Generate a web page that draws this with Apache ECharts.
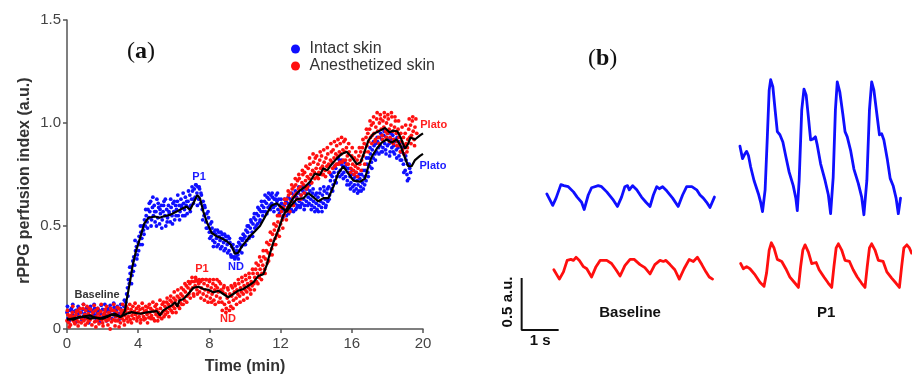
<!DOCTYPE html>
<html><head><meta charset="utf-8">
<script src="https://cdn.jsdelivr.net/npm/echarts@6/dist/echarts.min.js"></script>
<style>html,body{margin:0;padding:0;background:#fff}#c{width:912px;height:380px}</style>
</head><body><div id="c"></div>
<script>
// ---------- Panel (a) data: time (min), rPPG perfusion index (a.u.) ----------
const xTicks = [0, 4, 8, 12, 16, 20];
const yTicks = [0, 0.5, 1.0, 1.5];

const intactDots = [[0,0.08],[0.05,0.05],[0.1,0.09],[0.2,0.06],[0.25,0.1],[0.3,0.07],[0.4,0.085],[0.45,0.05],[0.5,0.09],[0.6,0.07],[0.65,0.1],[0.7,0.06],[0.8,0.08],[0.9,0.095],[0.95,0.065],[1,0.075],[1.1,0.1],[1.2,0.07],[1.25,0.085],[1.3,0.06],[1.4,0.09],[1.5,0.075],[1.55,0.1],[1.6,0.065],[1.7,0.08],[1.8,0.09],[1.85,0.06],[1.9,0.075],[2,0.095],[2.1,0.07],[2.2,0.085],[2.25,0.06],[2.3,0.1],[2.4,0.075],[2.5,0.09],[2.6,0.07],[2.65,0.105],[2.7,0.08],[2.8,0.095],[2.9,0.075],[3,0.1],[3.1,0.085],[3.2,0.11],
[3.3,0.13],[3.35,0.17],[3.4,0.2],[3.45,0.24],[3.5,0.22],[3.55,0.27],[3.6,0.3],[3.65,0.26],[3.7,0.33],[3.75,0.35],[3.8,0.31],[3.85,0.38],[3.9,0.4],[3.95,0.36],[4,0.42],[4.05,0.45],[4.1,0.41],[4.15,0.47],[4.2,0.44],[4.25,0.5],[4.3,0.48],[4.35,0.53],[4.4,0.5],[4.45,0.55],[4.5,0.52],[4.55,0.58],[4.6,0.54],[4.65,0.57],[4.7,0.62],[4.75,0.53],[4.8,0.59],[4.85,0.55],[4.9,0.6],[4.95,0.52],[5,0.57],[5.05,0.63],[5.1,0.54],[5.15,0.59],[5.2,0.51],[5.25,0.56],[5.3,0.6],[5.35,0.53],[5.4,0.57],[5.45,0.62],[5.5,0.55],[5.55,0.5],[5.6,0.58],[5.65,0.54],[5.7,0.6],[5.75,0.56],[5.8,0.52],[5.85,0.59],[5.9,0.55],[5.95,0.61],[6,0.57],[6.05,0.53],[6.1,0.6],[6.15,0.58],[6.2,0.62],[6.25,0.55],[6.3,0.6],[6.35,0.57],[6.4,0.63],[6.45,0.59],[6.5,0.55],[6.55,0.61],[6.6,0.58],[6.65,0.64],[6.7,0.6],[6.75,0.56],[6.8,0.62],[6.85,0.59],[6.9,0.65],[6.95,0.6],[7,0.63],[7.05,0.67],[7.1,0.61],[7.15,0.68],[7.2,0.64],[7.25,0.7],[7.3,0.66],[7.35,0.69],[7.4,0.63],[7.45,0.68],[7.5,0.61],[7.55,0.65],[7.6,0.58],[7.65,0.62],[7.7,0.55],[7.75,0.59],[7.8,0.52],[7.85,0.56],[7.9,0.49],[7.95,0.54],[8,0.47],[8.05,0.51],[8.1,0.45],[8.15,0.49],[8.2,0.43],[8.25,0.47],[8.3,0.42],[8.35,0.46],[8.4,0.44],[8.45,0.48],[8.5,0.41],[8.55,0.45],[8.6,0.43],[8.65,0.47],[8.7,0.4],[8.75,0.44],[8.8,0.42],[8.85,0.46],[8.9,0.39],[8.95,0.43],[9,0.41],[9.05,0.45],[9.1,0.38],[9.15,0.42],[9.2,0.36],[9.25,0.4],[9.3,0.35],[9.35,0.39],[9.4,0.35],[9.45,0.37],[9.5,0.35],[9.55,0.4],[9.6,0.36],[9.65,0.42],[9.7,0.38],[9.75,0.44],[9.8,0.4],[9.85,0.43],[9.9,0.46],[9.95,0.41],[10,0.45],[10.05,0.48],[10.1,0.43],[10.15,0.47],[10.2,0.5],[10.25,0.45],[10.3,0.49],[10.35,0.52],[10.4,0.47],[10.45,0.51],[10.5,0.54],[10.55,0.49],[10.6,0.53],[10.65,0.56],[10.7,0.51],[10.75,0.55],[10.8,0.58],[10.85,0.53],[10.9,0.57],[10.95,0.6],[11,0.55],[11.05,0.59],[11.1,0.62],[11.15,0.57],[11.2,0.61],[11.25,0.64],[11.3,0.59],[11.35,0.63],[11.4,0.6],[11.45,0.65],[11.5,0.61],[11.55,0.64],[11.6,0.59],[11.65,0.63],[11.7,0.6],[11.75,0.65],[11.8,0.62],[11.85,0.58],[11.9,0.63],[11.95,0.6],[12,0.57],[12.05,0.61],[12.1,0.58],[12.15,0.55],[12.2,0.6],[12.25,0.57],[12.3,0.62],[12.35,0.58],[12.4,0.61],[12.45,0.56],[12.5,0.6],[12.55,0.63],[12.6,0.58],[12.65,0.62],[12.7,0.6],[12.75,0.65],[12.8,0.61],[12.85,0.58],[12.9,0.64],[12.95,0.6],[13,0.66],[13.05,0.62],[13.1,0.59],[13.15,0.65],[13.2,0.61],[13.25,0.67],[13.3,0.63],[13.35,0.6],[13.4,0.66],[13.45,0.62],[13.5,0.68],[13.55,0.64],[13.6,0.61],[13.65,0.67],[13.7,0.63],[13.75,0.6],[13.8,0.66],[13.85,0.62],[13.9,0.59],[13.95,0.65],[14,0.61],[14.05,0.58],[14.1,0.64],[14.15,0.6],[14.2,0.66],[14.25,0.62],[14.3,0.59],[14.35,0.65],[14.4,0.61],[14.45,0.67],[14.5,0.63],[14.55,0.6],[14.6,0.66],[14.65,0.62],[14.7,0.69],[14.75,0.65],[14.8,0.72],[14.85,0.68],[14.9,0.74],[14.95,0.7],[15,0.76],[15.05,0.72],[15.1,0.78],[15.15,0.74],[15.2,0.8],[15.25,0.76],[15.3,0.82],[15.35,0.77],[15.4,0.8],[15.45,0.75],[15.5,0.79],[15.55,0.76],[15.6,0.81],[15.65,0.74],[15.7,0.78],[15.75,0.72],[15.8,0.76],[15.85,0.7],[15.9,0.74],[15.95,0.71],[16,0.75],[16.05,0.69],[16.1,0.73],[16.15,0.7],[16.2,0.74],[16.25,0.68],[16.3,0.72],[16.35,0.7],[16.4,0.67],[16.45,0.73],[16.5,0.69],[16.55,0.75],[16.6,0.71],[16.65,0.68],[16.7,0.74],[16.75,0.77],[16.8,0.72],[16.85,0.8],[16.9,0.76],[16.95,0.83],[17,0.79],[17.05,0.85],[17.1,0.81],[17.15,0.87],[17.2,0.83],[17.25,0.89],[17.3,0.85],[17.35,0.9],[17.4,0.86],[17.45,0.91],[17.5,0.88],[17.55,0.93],[17.6,0.89],[17.65,0.86],[17.7,0.92],[17.75,0.88],[17.8,0.94],[17.85,0.9],[17.9,0.87],[17.95,0.93],[18,0.89],[18.05,0.95],[18.1,0.9],[18.15,0.86],[18.2,0.92],[18.25,0.88],[18.3,0.94],[18.35,0.89],[18.4,0.85],[18.45,0.91],[18.5,0.87],[18.55,0.93],[18.6,0.88],[18.65,0.84],[18.7,0.9],[18.75,0.86],[18.8,0.82],[18.85,0.88],[18.9,0.8],[18.95,0.85],[19,0.77],[19.05,0.82],[19.1,0.75],[19.15,0.8],[19.2,0.73],[19.25,0.78],[19.3,0.76]];

const intactDotsExtra = [[0.025,0.11],[0.125,0.04],[0.225,0.09],[0.325,0.12],[0.425,0.06],[0.525,0.035],[0.625,0.11],[0.725,0.08],[0.825,0.045],[0.925,0.12],[1.025,0.05],[1.125,0.09],[1.225,0.03],[1.325,0.11],[1.425,0.065],[1.525,0.12],[1.625,0.04],[1.725,0.1],[1.825,0.035],[1.925,0.115],[2.025,0.055],[2.125,0.12],[2.225,0.04],[2.325,0.085],[2.425,0.115],[2.525,0.05],[2.625,0.125],[2.725,0.06],[2.825,0.11],[2.925,0.045],[3.025,0.12],[3.125,0.07],[3.225,0.14],[3.325,0.1],[3.425,0.16],[3.525,0.3],[3.625,0.22],[3.725,0.28],[3.825,0.43],[3.925,0.34],[4.025,0.38],[4.125,0.5],[4.225,0.41],[4.325,0.46],[4.425,0.58],[4.525,0.49],[4.625,0.61],[4.725,0.5],[4.825,0.64],[4.925,0.57],[5.025,0.5],[5.125,0.61],[5.225,0.58],[5.325,0.49],[5.425,0.6],[5.525,0.63],[5.625,0.52],[5.725,0.57],[5.825,0.63],[5.925,0.51],[6.025,0.62],[6.125,0.55],[6.225,0.65],[6.325,0.53],[6.425,0.6],[6.525,0.66],[6.625,0.55],[6.725,0.62],[6.825,0.67],[6.925,0.57],[7.025,0.69],[7.125,0.63],[7.225,0.7],[7.325,0.6],[7.425,0.69],[7.525,0.66],[7.625,0.53],[7.725,0.6],[7.825,0.49],[7.925,0.57],[8.025,0.44],[8.125,0.52],[8.225,0.4],[8.325,0.48],[8.425,0.4],[8.525,0.47],[8.625,0.39],[8.725,0.46],[8.825,0.38],[8.925,0.45],[9.025,0.37],[9.125,0.44],[9.225,0.35],[9.325,0.41],[9.425,0.34],[9.525,0.38],[9.625,0.34],[9.725,0.41],[9.825,0.37],[9.925,0.44],[10.025,0.41],[10.125,0.5],[10.225,0.44],[10.325,0.53],[10.425,0.45],[10.525,0.56],[10.625,0.5],[10.725,0.59],[10.825,0.52],[10.925,0.62],[11.025,0.57],[11.125,0.65],[11.225,0.56],[11.325,0.66],[11.425,0.58],[11.525,0.66],[11.625,0.57],[11.725,0.63],[11.825,0.66],[11.925,0.56],[12.025,0.63],[12.125,0.54],[12.225,0.63],[12.325,0.55],[12.425,0.64],[12.525,0.57],[12.625,0.66],[12.725,0.57],[12.825,0.67],[12.925,0.59],[13.025,0.69],[13.125,0.6],[13.225,0.69],[13.325,0.58],[13.425,0.68],[13.525,0.6],[13.625,0.7],[13.725,0.58],[13.825,0.68],[13.925,0.57],[14.025,0.66],[14.125,0.57],[14.225,0.68],[14.325,0.57],[14.425,0.69],[14.525,0.59],[14.625,0.68],[14.725,0.63],[14.825,0.75],[14.925,0.67],[15.025,0.79],[15.125,0.71],[15.225,0.83],[15.325,0.74],[15.425,0.82],[15.525,0.73],[15.625,0.79],[15.725,0.7],[15.825,0.78],[15.925,0.68],[16.025,0.77],[16.125,0.67],[16.225,0.76],[16.325,0.66],[16.425,0.75],[16.525,0.67],[16.625,0.77],[16.725,0.7],[16.825,0.83],[16.925,0.74],[17.025,0.88],[17.125,0.78],[17.225,0.91],[17.325,0.82],[17.425,0.93],[17.525,0.85],[17.625,0.95],[17.725,0.86],[17.825,0.96],[17.925,0.85],[18.025,0.92],[18.125,0.84],[18.225,0.95],[18.325,0.86],[18.425,0.92],[18.525,0.83],[18.625,0.91],[18.725,0.82],[18.825,0.86],[18.925,0.76],[19.025,0.84],[19.125,0.72],[19.225,0.8]];

const anesthDots = [[0,0.04],[0.05,0.07],[0.1,0.03],[0.15,0.06],[0.2,0.02],[0.25,0.05],[0.3,0.08],[0.35,0.04],[0.4,0.06],[0.45,0.025],[0.5,0.07],[0.55,0.045],[0.6,0.09],[0.65,0.035],[0.7,0.06],[0.75,0.08],[0.8,0.03],[0.85,0.055],[0.9,0.1],[0.95,0.04],[1,0.07],[1.05,0.09],[1.1,0.05],[1.15,0.03],[1.2,0.075],[1.25,0.1],[1.3,0.045],[1.35,0.065],[1.4,0.02],[1.45,0.08],[1.5,0.055],[1.55,0.035],[1.6,0.09],[1.65,0.06],[1.7,0.04],[1.75,0.075],[1.8,0.025],[1.85,0.06],[1.9,0.085],[1.95,0.045],[2,0.03],[2.05,0.07],[2.1,0.05],[2.15,0.095],[2.2,0.04],[2.25,0.065],[2.3,0.02],[2.35,0.08],[2.4,0.055],[2.45,0.1],[2.5,0.035],[2.55,0.07],[2.6,0.045],[2.65,0.09],[2.7,0.015],[2.75,0.06],[2.8,0.08],[2.85,0.04],[2.9,0.1],[2.95,0.055],[3,0.03],[3.05,0.075],[3.1,0.05],[3.15,0.09],[3.2,0.04],[3.25,0.065],[3.3,0.085],[3.35,0.05],[3.4,0.1],[3.45,0.06],[3.5,0.08],[3.55,0.045],[3.6,0.095],[3.65,0.065],[3.7,0.11],[3.75,0.05],[3.8,0.085],[3.85,0.07],[3.9,0.1],[3.95,0.055],[4,0.08],[4.05,0.06],[4.1,0.095],[4.15,0.045],[4.2,0.075],[4.25,0.1],[4.3,0.06],[4.35,0.085],[4.4,0.05],[4.45,0.09],[4.5,0.07],[4.55,0.105],[4.6,0.055],[4.65,0.08],[4.7,0.1],[4.75,0.065],[4.8,0.09],[4.85,0.05],[4.9,0.085],[4.95,0.11],[5,0.07],[5.05,0.095],[5.1,0.04],[5.15,0.08],[5.2,0.06],[5.25,0.1],[5.3,0.075],[5.35,0.12],[5.4,0.085],[5.45,0.06],[5.5,0.11],[5.55,0.09],[5.6,0.13],[5.65,0.08],[5.7,0.12],[5.75,0.1],[5.8,0.14],[5.85,0.09],[5.9,0.13],[5.95,0.11],[6,0.15],[6.05,0.1],[6.1,0.14],[6.15,0.12],[6.2,0.16],[6.25,0.11],[6.3,0.15],[6.35,0.13],[6.4,0.17],[6.45,0.12],[6.5,0.16],[6.55,0.19],[6.6,0.14],[6.65,0.18],[6.7,0.21],[6.75,0.16],[6.8,0.2],[6.85,0.17],[6.9,0.22],[6.95,0.19],[7,0.23],[7.05,0.2],[7.1,0.17],[7.15,0.23],[7.2,0.21],[7.25,0.24],[7.3,0.19],[7.35,0.23],[7.4,0.22],[7.45,0.18],[7.5,0.23],[7.55,0.2],[7.6,0.24],[7.65,0.17],[7.7,0.22],[7.75,0.19],[7.8,0.24],[7.85,0.16],[7.9,0.21],[7.95,0.18],[8,0.23],[8.05,0.15],[8.1,0.2],[8.15,0.17],[8.2,0.22],[8.25,0.14],[8.3,0.19],[8.35,0.21],[8.4,0.16],[8.45,0.2],[8.5,0.18],[8.55,0.23],[8.6,0.15],[8.65,0.19],[8.7,0.13],[8.75,0.18],[8.8,0.2],[8.85,0.12],[8.9,0.17],[8.95,0.1],[9,0.15],[9.05,0.19],[9.1,0.13],[9.15,0.17],[9.2,0.11],[9.25,0.16],[9.3,0.2],[9.35,0.14],[9.4,0.18],[9.45,0.21],[9.5,0.15],[9.55,0.19],[9.6,0.17],[9.65,0.22],[9.7,0.16],[9.75,0.2],[9.8,0.18],[9.85,0.23],[9.9,0.17],[9.95,0.21],[10,0.19],[10.05,0.24],[10.1,0.18],[10.15,0.22],[10.2,0.2],[10.25,0.25],[10.3,0.19],[10.35,0.23],[10.4,0.21],[10.45,0.27],[10.5,0.22],[10.55,0.25],[10.6,0.29],[10.65,0.23],[10.7,0.27],[10.75,0.31],[10.8,0.25],[10.85,0.29],[10.9,0.33],[10.95,0.27],[11,0.31],[11.05,0.35],[11.1,0.29],[11.15,0.34],[11.2,0.38],[11.25,0.32],[11.3,0.37],[11.35,0.41],[11.4,0.36],[11.45,0.43],[11.5,0.39],[11.55,0.46],[11.6,0.41],[11.65,0.48],[11.7,0.44],[11.75,0.5],[11.8,0.46],[11.85,0.52],[11.9,0.48],[11.95,0.55],[12,0.51],[12.05,0.57],[12.1,0.53],[12.15,0.59],[12.2,0.55],[12.25,0.61],[12.3,0.57],[12.35,0.63],[12.4,0.59],[12.45,0.65],[12.5,0.6],[12.55,0.66],[12.6,0.62],[12.65,0.68],[12.7,0.64],[12.75,0.69],[12.8,0.65],[12.85,0.7],[12.9,0.66],[12.95,0.72],[13,0.68],[13.05,0.73],[13.1,0.69],[13.15,0.65],[13.2,0.71],[13.25,0.75],[13.3,0.7],[13.35,0.76],[13.4,0.72],[13.45,0.68],[13.5,0.74],[13.55,0.78],[13.6,0.73],[13.65,0.8],[13.7,0.75],[13.75,0.71],[13.8,0.77],[13.85,0.81],[13.9,0.76],[13.95,0.83],[14,0.78],[14.05,0.74],[14.1,0.8],[14.15,0.76],[14.2,0.82],[14.25,0.78],[14.3,0.84],[14.35,0.79],[14.4,0.75],[14.45,0.81],[14.5,0.77],[14.55,0.83],[14.6,0.79],[14.65,0.85],[14.7,0.8],[14.75,0.76],[14.8,0.82],[14.85,0.86],[14.9,0.81],[14.95,0.87],[15,0.83],[15.05,0.79],[15.1,0.85],[15.15,0.89],[15.2,0.84],[15.25,0.8],[15.3,0.86],[15.35,0.9],[15.4,0.85],[15.45,0.81],[15.5,0.87],[15.55,0.91],[15.6,0.86],[15.65,0.82],[15.7,0.88],[15.75,0.84],[15.8,0.8],[15.85,0.86],[15.9,0.82],[15.95,0.78],[16,0.84],[16.05,0.8],[16.1,0.77],[16.15,0.83],[16.2,0.79],[16.25,0.76],[16.3,0.82],[16.35,0.78],[16.4,0.84],[16.45,0.8],[16.5,0.86],[16.55,0.82],[16.6,0.88],[16.65,0.84],[16.7,0.9],[16.75,0.86],[16.8,0.93],[16.85,0.89],[16.9,0.95],[16.95,0.91],[17,0.97],[17.05,0.93],[17.1,0.99],[17.15,0.94],[17.2,1],[17.25,0.95],[17.3,0.91],[17.35,0.98],[17.4,1.02],[17.45,0.96],[17.5,0.93],[17.55,1],[17.6,1.04],[17.65,0.97],[17.7,0.94],[17.75,1.01],[17.8,0.98],[17.85,1.03],[17.9,0.96],[17.95,1],[18,0.95],[18.05,1.02],[18.1,0.97],[18.15,0.93],[18.2,0.99],[18.25,1.03],[18.3,0.96],[18.35,0.92],[18.4,0.98],[18.45,1.01],[18.5,0.95],[18.55,0.91],[18.6,0.97],[18.65,0.93],[18.7,0.89],[18.75,0.95],[18.8,0.91],[18.85,0.87],[18.9,0.93],[18.95,0.89],[19,0.95],[19.05,0.9],[19.1,0.86],[19.15,0.92],[19.2,0.97],[19.25,0.93],[19.3,0.99],[19.35,0.94],[19.4,1.01],[19.45,0.96],[19.5,0.92],[19.55,0.98],[19.6,1.02],[19.65,0.95]];

const anesthDotsExtra = [[0.025,0.09],[0.125,0.01],[0.225,0.065],[0.325,0.11],[0.425,0.03],[0.525,0.085],[0.625,0.015],[0.725,0.1],[0.825,0.05],[0.925,0.12],[1.025,0.02],[1.125,0.11],[1.225,0.04],[1.325,0.095],[1.425,0.06],[1.525,0.115],[1.625,0.01],[1.725,0.1],[1.825,0.05],[1.925,0.12],[2.025,0.015],[2.125,0.08],[2.225,0.11],[2.325,0.045],[2.425,0.0],[2.525,0.09],[2.625,0.12],[2.725,0.04],[2.825,0.105],[2.925,0.01],[3.025,0.09],[3.125,0.12],[3.225,0.02],[3.325,0.11],[3.425,0.035],[3.525,0.12],[3.625,0.03],[3.725,0.08],[3.825,0.125],[3.925,0.04],[4.025,0.11],[4.125,0.03],[4.225,0.125],[4.325,0.045],[4.425,0.11],[4.525,0.03],[4.625,0.12],[4.725,0.05],[4.825,0.13],[4.925,0.04],[5.025,0.12],[5.125,0.06],[5.225,0.14],[5.325,0.05],[5.425,0.13],[5.525,0.07],[5.625,0.15],[5.725,0.06],[5.825,0.16],[5.925,0.08],[6.025,0.18],[6.125,0.08],[6.225,0.19],[6.325,0.1],[6.425,0.2],[6.525,0.12],[6.625,0.22],[6.725,0.13],[6.825,0.23],[6.925,0.15],[7.025,0.25],[7.125,0.16],[7.225,0.25],[7.325,0.17],[7.425,0.24],[7.525,0.15],[7.625,0.24],[7.725,0.14],[7.825,0.24],[7.925,0.13],[8.025,0.24],[8.125,0.13],[8.225,0.24],[8.325,0.12],[8.425,0.24],[8.525,0.13],[8.625,0.22],[8.725,0.09],[8.825,0.21],[8.925,0.08],[9.025,0.2],[9.125,0.09],[9.225,0.21],[9.325,0.1],[9.425,0.22],[9.525,0.12],[9.625,0.24],[9.725,0.13],[9.825,0.25],[9.925,0.14],[10.025,0.26],[10.125,0.15],[10.225,0.27],[10.325,0.17],[10.425,0.29],[10.525,0.19],[10.625,0.32],[10.725,0.22],[10.825,0.35],[10.925,0.24],[11.025,0.38],[11.125,0.27],[11.225,0.42],[11.325,0.33],[11.425,0.47],[11.525,0.36],[11.625,0.51],[11.725,0.41],[11.825,0.55],[11.925,0.45],[12.025,0.59],[12.125,0.49],[12.225,0.63],[12.325,0.53],[12.425,0.67],[12.525,0.57],[12.625,0.7],[12.725,0.6],[12.825,0.73],[12.925,0.63],[13.025,0.75],[13.125,0.63],[13.225,0.77],[13.325,0.66],[13.425,0.79],[13.525,0.69],[13.625,0.83],[13.725,0.71],[13.825,0.85],[13.925,0.73],[14.025,0.84],[14.125,0.73],[14.225,0.86],[14.325,0.75],[14.425,0.87],[14.525,0.74],[14.625,0.88],[14.725,0.76],[14.825,0.9],[14.925,0.78],[15.025,0.91],[15.125,0.8],[15.225,0.92],[15.325,0.81],[15.425,0.93],[15.525,0.82],[15.625,0.92],[15.725,0.8],[15.825,0.9],[15.925,0.76],[16.025,0.88],[16.125,0.75],[16.225,0.86],[16.325,0.74],[16.425,0.88],[16.525,0.77],[16.625,0.92],[16.725,0.8],[16.825,0.97],[16.925,0.86],[17.025,1.01],[17.125,0.9],[17.225,1.03],[17.325,0.92],[17.425,1.05],[17.525,0.9],[17.625,1.02],[17.725,0.92],[17.825,1.05],[17.925,0.93],[18.025,1.04],[18.125,0.91],[18.225,1.05],[18.325,0.9],[18.425,1.03],[18.525,0.89],[18.625,1.01],[18.725,0.86],[18.825,0.98],[18.925,0.85],[19.025,0.99],[19.125,0.88],[19.225,1.02],[19.325,0.9],[19.425,1.03],[19.525,0.89]];

const intactLine = [[0,0.05],[0.35,0.045],[0.7,0.058],[1,0.062],[1.3,0.066],[1.6,0.055],[1.85,0.05],[2.1,0.058],[2.4,0.066],[2.7,0.074],[3,0.058],[3.15,0.07],[3.26,0.09],[3.35,0.14],[3.54,0.23],[3.69,0.31],[3.88,0.38],[4.1,0.44],[4.33,0.51],[4.57,0.54],[4.94,0.546],[5.2,0.54],[5.41,0.546],[5.79,0.554],[6.16,0.57],[6.54,0.587],[6.72,0.595],[6.91,0.578],[7.1,0.61],[7.32,0.65],[7.47,0.635],[7.66,0.57],[7.88,0.514],[8.13,0.466],[8.41,0.45],[8.69,0.44],[8.97,0.426],[9.2,0.41],[9.44,0.365],[9.62,0.37],[9.81,0.4],[10.06,0.426],[10.28,0.45],[10.56,0.475],[10.84,0.5],[11.22,0.56],[11.5,0.6],[11.78,0.61],[12.06,0.59],[12.34,0.57],[12.6,0.6],[12.9,0.63],[13.28,0.635],[13.56,0.66],[13.84,0.64],[14.12,0.62],[14.4,0.635],[14.68,0.635],[14.96,0.69],[15.24,0.755],[15.52,0.79],[15.8,0.755],[16.09,0.72],[16.46,0.715],[16.74,0.73],[16.93,0.79],[17.11,0.835],[17.4,0.875],[17.68,0.905],[17.96,0.92],[18.24,0.905],[18.52,0.92],[18.74,0.89],[18.99,0.83],[19.17,0.79],[19.36,0.79],[19.55,0.82],[19.83,0.84],[20,0.85]];

const anesthLine = [[0,0.045],[0.3,0.05],[0.6,0.055],[1,0.06],[1.3,0.05],[1.6,0.055],[2,0.05],[2.3,0.06],[2.5,0.07],[2.8,0.065],[3,0.06],[3.35,0.074],[3.63,0.082],[4.1,0.074],[4.57,0.082],[5.04,0.087],[5.22,0.066],[5.41,0.09],[5.69,0.106],[5.88,0.114],[6.07,0.13],[6.2,0.109],[6.31,0.138],[6.54,0.146],[6.81,0.17],[7.1,0.2],[7.38,0.205],[7.66,0.194],[7.94,0.19],[8.22,0.178],[8.5,0.186],[8.78,0.17],[9.06,0.154],[9.34,0.17],[9.62,0.186],[9.9,0.194],[10.19,0.21],[10.47,0.226],[10.75,0.258],[11.03,0.266],[11.22,0.31],[11.31,0.34],[11.59,0.42],[11.87,0.48],[12.15,0.55],[12.43,0.595],[12.71,0.635],[13,0.667],[13.37,0.69],[13.65,0.715],[13.93,0.755],[14.21,0.747],[14.4,0.78],[14.62,0.77],[14.87,0.8],[15.15,0.827],[15.43,0.85],[15.71,0.86],[15.99,0.835],[16.28,0.8],[16.5,0.81],[16.74,0.867],[16.93,0.915],[17.21,0.947],[17.58,0.963],[17.87,0.976],[18.11,0.955],[18.34,0.963],[18.56,0.96],[18.74,0.93],[18.99,0.875],[19.17,0.9],[19.3,0.93],[19.55,0.92],[19.83,0.94],[20,0.95]];

// annotations in panel (a): [t, value, text, colour]
const annotA = [[1.69,0.163,'Baseline','#333'],[7.42,0.74,'P1','#1a1aff'],[9.49,0.3,'ND','#1a1aff'],[7.58,0.29,'P1','#ff2020'],[9.04,0.05,'ND','#ff2020'],[20.6,0.99,'Plato','#ff2020'],[20.56,0.79,'Plato','#1a1aff']];

// ---------- Panel (b) data: time (s), signal (a.u.) ----------
const baseIntact = [[1.13,1.31],[1.29,1.2],[1.38,1.27],[1.51,1.4],[1.59,1.39],[1.71,1.38],[1.85,1.33],[1.95,1.28],[2.07,1.23],[2.14,1.16],[2.25,1.3],[2.34,1.37],[2.52,1.39],[2.61,1.38],[2.75,1.33],[2.93,1.25],[3.04,1.19],[3.15,1.28],[3.24,1.38],[3.31,1.39],[3.36,1.35],[3.45,1.39],[3.56,1.35],[3.69,1.28],[3.81,1.23],[3.92,1.19],[4.01,1.3],[4.1,1.38],[4.17,1.36],[4.26,1.38],[4.37,1.34],[4.53,1.27],[4.68,1.19],[4.8,1.3],[4.91,1.38],[5.05,1.38],[5.18,1.35],[5.27,1.3],[5.36,1.27],[5.45,1.23],[5.54,1.18],[5.66,1.28]];
const baseAnesth = [[1.32,0.58],[1.47,0.49],[1.58,0.56],[1.68,0.67],[1.78,0.68],[1.85,0.67],[1.92,0.7],[2.01,0.67],[2.12,0.61],[2.21,0.59],[2.34,0.51],[2.46,0.61],[2.57,0.67],[2.75,0.67],[2.88,0.64],[3,0.58],[3.11,0.52],[3.24,0.62],[3.38,0.68],[3.49,0.68],[3.65,0.63],[3.78,0.6],[3.92,0.54],[4.05,0.63],[4.19,0.67],[4.28,0.66],[4.35,0.67],[4.46,0.63],[4.59,0.58],[4.71,0.49],[4.84,0.59],[4.98,0.68],[5.09,0.66],[5.2,0.7],[5.32,0.63],[5.43,0.56],[5.52,0.51],[5.61,0.49]];
const p1Intact = [[6.35,1.77],[6.42,1.65],[6.49,1.7],[6.53,1.72],[6.58,1.68],[6.64,1.57],[6.73,1.44],[6.85,1.31],[6.91,1.23],[6.96,1.14],[7.03,1.35],[7.09,1.86],[7.14,2.31],[7.18,2.41],[7.24,2.34],[7.3,2.12],[7.36,1.91],[7.43,1.88],[7.51,1.81],[7.59,1.67],[7.68,1.52],[7.79,1.39],[7.86,1.27],[7.9,1.15],[7.95,1.44],[8.02,2.12],[8.08,2.32],[8.14,2.26],[8.2,2.05],[8.26,1.83],[8.33,1.84],[8.39,1.86],[8.44,1.78],[8.53,1.6],[8.65,1.44],[8.74,1.3],[8.8,1.12],[8.87,1.47],[8.93,2.12],[8.98,2.39],[9.05,2.29],[9.13,2.08],[9.19,1.91],[9.25,1.86],[9.34,1.73],[9.43,1.55],[9.55,1.41],[9.64,1.28],[9.7,1.11],[9.78,1.44],[9.85,2.12],[9.91,2.39],[9.97,2.31],[10.05,2.08],[10.12,1.88],[10.18,1.89],[10.24,1.83],[10.33,1.65],[10.41,1.46],[10.49,1.39],[10.57,1.27],[10.63,1.12],[10.69,1.27]];
const p1Anesth = [[6.37,0.64],[6.44,0.59],[6.53,0.61],[6.62,0.59],[6.76,0.53],[6.89,0.46],[7,0.42],[7.07,0.55],[7.14,0.77],[7.2,0.84],[7.27,0.79],[7.36,0.68],[7.48,0.66],[7.59,0.59],[7.7,0.51],[7.84,0.45],[7.93,0.41],[7.99,0.61],[8.05,0.77],[8.11,0.82],[8.2,0.75],[8.29,0.64],[8.41,0.65],[8.49,0.58],[8.62,0.51],[8.74,0.45],[8.83,0.41],[8.89,0.61],[8.95,0.79],[9.01,0.83],[9.1,0.77],[9.19,0.67],[9.31,0.66],[9.41,0.58],[9.52,0.51],[9.64,0.45],[9.73,0.41],[9.79,0.61],[9.85,0.79],[9.91,0.83],[10,0.77],[10.09,0.67],[10.22,0.66],[10.32,0.56],[10.45,0.5],[10.57,0.45],[10.66,0.41],[10.72,0.61],[10.78,0.79],[10.86,0.82],[10.93,0.79],[10.99,0.74]];
// scale bar: 0.5 a.u. vertical, 1 s horizontal
const scaleBar = [[0.45,0.5],[0.45,0],[1.45,0]];
// annotations in panel (b): [t, value, text, rotate]
const annotB = [[3.38,0.163,'Baseline',0],[8.68,0.163,'P1',0],[0.08,0.27,'0.5 a.u.',90],[0.95,-0.1,'1 s',0]];

const BLUE = '#0f0fff', RED = '#ff0f0f';
const FONT = '"Liberation Sans", Arial, sans-serif';
const SERIF = '"Liberation Serif", "DejaVu Serif", serif';

const chart = echarts.init(document.getElementById('c'), null, {renderer: 'canvas'});
chart.setOption({
  backgroundColor: '#fff',
  animation: false,
  textStyle: {fontFamily: FONT},
  grid: [
    {left: 67, top: 20, width: 356, height: 312},
    {left: 505, top: 60, width: 407, height: 270}
  ],
  xAxis: [
    {gridIndex: 0, type: 'value', min: xTicks[0], max: xTicks[xTicks.length-1], interval: xTicks[1]-xTicks[0],
     axisLine: {lineStyle: {color: '#555', width: 1.5}}, axisTick: {length: 4, lineStyle: {color: '#555', width: 1.5}},
     axisLabel: {color: '#444', fontSize: 15, margin: 7, fontFamily: FONT}, splitLine: {show: false},
     name: 'Time (min)', nameLocation: 'middle', nameGap: 30,
     nameTextStyle: {color: '#333', fontSize: 16, fontWeight: 'bold', fontFamily: FONT}},
    {gridIndex: 1, type: 'value', min: 0, max: 11, show: false}
  ],
  yAxis: [
    {gridIndex: 0, type: 'value', min: yTicks[0], max: yTicks[yTicks.length-1], interval: yTicks[1]-yTicks[0],
     axisLine: {show: true, lineStyle: {color: '#555', width: 1.5}}, axisTick: {show: true, length: 4, lineStyle: {color: '#555', width: 1.5}},
     axisLabel: {color: '#444', fontSize: 15, margin: 6, fontFamily: FONT, formatter: v => v === 0 ? '0' : v.toFixed(1)},
     splitLine: {show: false},
     name: 'rPPG perfusion index (a.u.)', nameLocation: 'middle', nameGap: 34,
     nameTextStyle: {color: '#333', fontSize: 16, fontWeight: 'bold', fontFamily: FONT, padding: [0, 12, 0, 0]}},
    {gridIndex: 1, type: 'value', min: 0, max: 2.6, show: false}
  ],
  legend: {
    orient: 'vertical', left: 286, top: 36, itemWidth: 18, itemHeight: 9, itemGap: 1,
    data: ['Intact skin', 'Anesthetized skin'], icon: 'circle',
    itemStyle: {opacity: 1},
    textStyle: {color: '#333', fontSize: 16, fontFamily: FONT}
  },
  graphic: [
    {type: 'text', left: 127, top: 40, style: {text: '{p|(}{b|a}{p|)}', rich: {
      p: {fontFamily: SERIF, fontSize: 24, fill: '#111'},
      b: {fontFamily: SERIF, fontSize: 24, fontWeight: 'bold', fill: '#111'}}}},
    {type: 'text', left: 588, top: 47, style: {text: '{p|(}{b|b}{p|)}', rich: {
      p: {fontFamily: SERIF, fontSize: 24, fill: '#111'},
      b: {fontFamily: SERIF, fontSize: 24, fontWeight: 'bold', fill: '#111'}}}}
  ],
  series: [
    {name: 'Intact skin', type: 'scatter', xAxisIndex: 0, yAxisIndex: 0, data: intactDots.concat(intactDotsExtra), symbolSize: 3.8,
     itemStyle: {color: BLUE, opacity: 1}, silent: true},
    {name: 'Anesthetized skin', type: 'scatter', xAxisIndex: 0, yAxisIndex: 0, data: anesthDots.concat(anesthDotsExtra), symbolSize: 3.8,
     itemStyle: {color: RED, opacity: 1}, silent: true},
    {type: 'line', xAxisIndex: 0, yAxisIndex: 0, data: intactLine, symbol: 'none', lineStyle: {color: '#000', width: 2.2}, silent: true},
    {type: 'line', xAxisIndex: 0, yAxisIndex: 0, data: anesthLine, symbol: 'none', lineStyle: {color: '#000', width: 2.2}, silent: true},
    {type: 'scatter', xAxisIndex: 0, yAxisIndex: 0, clip: false, symbolSize: 0, silent: true, itemStyle: {opacity: 1},
     data: annotA.map(a => ({value: [a[0], a[1]], label: {color: a[3]}, name: a[2]})),
     label: {show: true, position: 'inside', formatter: p => p.name, fontSize: 11, fontWeight: 'bold', fontFamily: FONT}},
    {type: 'line', xAxisIndex: 1, yAxisIndex: 1, data: baseIntact, symbol: 'none', lineStyle: {color: BLUE, width: 2.8, join: 'round', cap: 'round'}, silent: true},
    {type: 'line', xAxisIndex: 1, yAxisIndex: 1, data: baseAnesth, symbol: 'none', lineStyle: {color: RED, width: 2.8, join: 'round', cap: 'round'}, silent: true},
    {type: 'line', xAxisIndex: 1, yAxisIndex: 1, data: p1Intact, symbol: 'none', lineStyle: {color: BLUE, width: 2.8, join: 'round', cap: 'round'}, silent: true},
    {type: 'line', xAxisIndex: 1, yAxisIndex: 1, data: p1Anesth, symbol: 'none', lineStyle: {color: RED, width: 2.8, join: 'round', cap: 'round'}, silent: true},
    {type: 'line', xAxisIndex: 1, yAxisIndex: 1, data: scaleBar, symbol: 'none', lineStyle: {color: '#111', width: 2}, silent: true},
    {type: 'scatter', xAxisIndex: 1, yAxisIndex: 1, clip: false, symbolSize: 0, silent: true, itemStyle: {opacity: 1},
     data: annotB.map(a => ({value: [a[0], a[1]], name: a[2], label: {rotate: a[3]}})),
     label: {show: true, position: 'inside', formatter: p => p.name, color: '#111', fontSize: 15, fontWeight: 'bold', fontFamily: FONT}}
  ]
});
</script></body></html>
